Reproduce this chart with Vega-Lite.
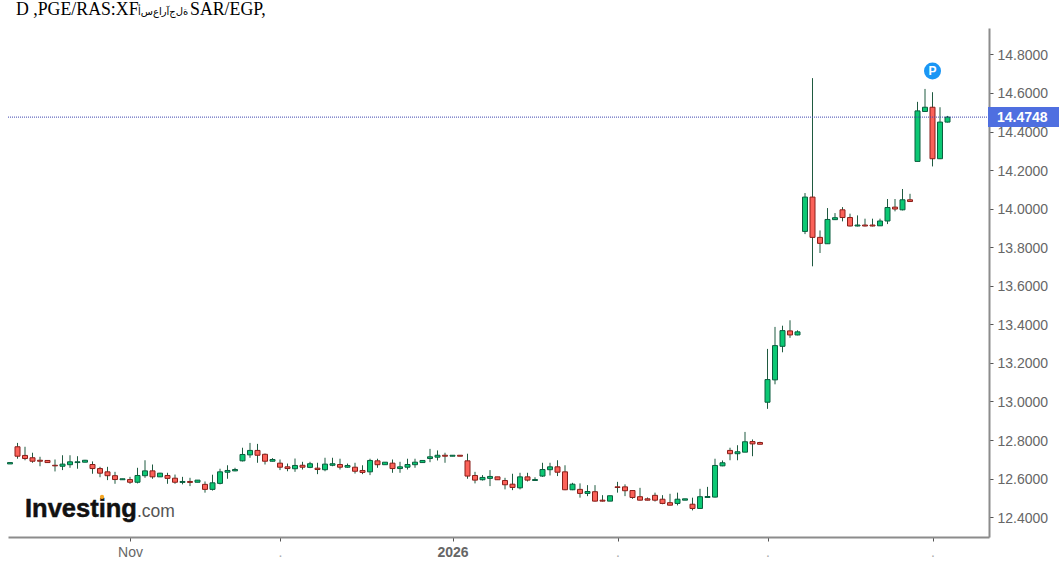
{
  "$schema": "https://vega.github.io/schema/vega-lite/v6.json",
  "width": 981,
  "height": 509,
  "autosize": "none",
  "padding": {"left": 8, "top": 28, "right": 70, "bottom": 29},
  "background": "white",
  "datasets": {
    "candles": [
      {"n":0,"date":"2025-10-10","open":12.676,"high":12.683,"low":12.676,"close":12.683},
      {"n":1,"date":"2025-10-13","open":12.765,"high":12.785,"low":12.703,"close":12.716},
      {"n":2,"date":"2025-10-14","open":12.72,"high":12.765,"low":12.695,"close":12.704},
      {"n":3,"date":"2025-10-15","open":12.708,"high":12.734,"low":12.682,"close":12.69},
      {"n":4,"date":"2025-10-16","open":12.695,"high":12.713,"low":12.664,"close":12.69},
      {"n":5,"date":"2025-10-17","open":12.694,"high":12.696,"low":12.681,"close":12.683},
      {"n":6,"date":"2025-10-20","open":12.669,"high":12.699,"low":12.637,"close":12.666},
      {"n":7,"date":"2025-10-21","open":12.664,"high":12.721,"low":12.644,"close":12.675},
      {"n":8,"date":"2025-10-22","open":12.672,"high":12.721,"low":12.656,"close":12.687},
      {"n":9,"date":"2025-10-23","open":12.683,"high":12.716,"low":12.651,"close":12.687},
      {"n":10,"date":"2025-10-24","open":12.685,"high":12.697,"low":12.684,"close":12.695},
      {"n":11,"date":"2025-10-27","open":12.673,"high":12.689,"low":12.625,"close":12.652},
      {"n":12,"date":"2025-10-28","open":12.652,"high":12.661,"low":12.607,"close":12.628},
      {"n":13,"date":"2025-10-29","open":12.635,"high":12.661,"low":12.592,"close":12.615},
      {"n":14,"date":"2025-10-30","open":12.615,"high":12.635,"low":12.573,"close":12.595},
      {"n":15,"date":"2025-10-31","open":12.594,"high":12.599,"low":12.594,"close":12.599},
      {"n":16,"date":"2025-11-03","open":12.595,"high":12.609,"low":12.573,"close":12.581},
      {"n":17,"date":"2025-11-04","open":12.581,"high":12.656,"low":12.575,"close":12.616},
      {"n":18,"date":"2025-11-05","open":12.615,"high":12.695,"low":12.604,"close":12.64},
      {"n":19,"date":"2025-11-06","open":12.64,"high":12.673,"low":12.599,"close":12.609},
      {"n":20,"date":"2025-11-07","open":12.609,"high":12.63,"low":12.608,"close":12.628},
      {"n":21,"date":"2025-11-10","open":12.616,"high":12.63,"low":12.573,"close":12.601},
      {"n":22,"date":"2025-11-11","open":12.602,"high":12.621,"low":12.573,"close":12.581},
      {"n":23,"date":"2025-11-12","open":12.58,"high":12.609,"low":12.57,"close":12.585},
      {"n":24,"date":"2025-11-13","open":12.585,"high":12.604,"low":12.561,"close":12.58},
      {"n":25,"date":"2025-11-14","open":12.581,"high":12.592,"low":12.581,"close":12.592},
      {"n":26,"date":"2025-11-17","open":12.57,"high":12.585,"low":12.527,"close":12.544},
      {"n":27,"date":"2025-11-18","open":12.544,"high":12.62,"low":12.538,"close":12.578},
      {"n":28,"date":"2025-11-19","open":12.575,"high":12.651,"low":12.57,"close":12.635},
      {"n":29,"date":"2025-11-20","open":12.633,"high":12.669,"low":12.599,"close":12.642},
      {"n":30,"date":"2025-11-21","open":12.64,"high":12.656,"low":12.638,"close":12.647},
      {"n":31,"date":"2025-11-24","open":12.692,"high":12.76,"low":12.689,"close":12.725},
      {"n":32,"date":"2025-11-25","open":12.723,"high":12.785,"low":12.708,"close":12.746},
      {"n":33,"date":"2025-11-26","open":12.746,"high":12.78,"low":12.682,"close":12.721},
      {"n":34,"date":"2025-11-27","open":12.726,"high":12.73,"low":12.673,"close":12.69},
      {"n":35,"date":"2025-11-28","open":12.69,"high":12.706,"low":12.689,"close":12.699},
      {"n":36,"date":"2025-12-01","open":12.68,"high":12.699,"low":12.644,"close":12.659},
      {"n":37,"date":"2025-12-02","open":12.661,"high":12.678,"low":12.638,"close":12.652},
      {"n":38,"date":"2025-12-03","open":12.651,"high":12.704,"low":12.635,"close":12.668},
      {"n":39,"date":"2025-12-04","open":12.669,"high":12.687,"low":12.647,"close":12.659},
      {"n":40,"date":"2025-12-05","open":12.658,"high":12.687,"low":12.654,"close":12.677},
      {"n":41,"date":"2025-12-08","open":12.654,"high":12.682,"low":12.623,"close":12.647},
      {"n":42,"date":"2025-12-09","open":12.646,"high":12.708,"low":12.638,"close":12.675},
      {"n":43,"date":"2025-12-10","open":12.669,"high":12.708,"low":12.664,"close":12.677},
      {"n":44,"date":"2025-12-11","open":12.673,"high":12.703,"low":12.647,"close":12.659},
      {"n":45,"date":"2025-12-12","open":12.659,"high":12.678,"low":12.656,"close":12.668},
      {"n":46,"date":"2025-12-15","open":12.659,"high":12.682,"low":12.626,"close":12.638},
      {"n":47,"date":"2025-12-16","open":12.642,"high":12.669,"low":12.623,"close":12.632},
      {"n":48,"date":"2025-12-17","open":12.635,"high":12.703,"low":12.618,"close":12.694},
      {"n":49,"date":"2025-12-18","open":12.692,"high":12.703,"low":12.656,"close":12.672},
      {"n":50,"date":"2025-12-19","open":12.672,"high":12.685,"low":12.672,"close":12.685},
      {"n":51,"date":"2025-12-22","open":12.68,"high":12.699,"low":12.63,"close":12.652},
      {"n":52,"date":"2025-12-23","open":12.652,"high":12.687,"low":12.63,"close":12.661},
      {"n":53,"date":"2025-12-24","open":12.659,"high":12.703,"low":12.647,"close":12.673},
      {"n":54,"date":"2025-12-25","open":12.672,"high":12.703,"low":12.656,"close":12.685},
      {"n":55,"date":"2025-12-26","open":12.683,"high":12.694,"low":12.683,"close":12.694},
      {"n":56,"date":"2025-12-29","open":12.704,"high":12.754,"low":12.685,"close":12.713},
      {"n":57,"date":"2025-12-30","open":12.711,"high":12.746,"low":12.694,"close":12.721},
      {"n":58,"date":"2025-12-31","open":12.721,"high":12.734,"low":12.682,"close":12.716},
      {"n":59,"date":"2026-01-01","open":12.716,"high":12.721,"low":12.716,"close":12.721},
      {"n":60,"date":"2026-01-02","open":12.721,"high":12.721,"low":12.716,"close":12.716},
      {"n":61,"date":"2026-01-05","open":12.692,"high":12.729,"low":12.599,"close":12.613},
      {"n":62,"date":"2026-01-06","open":12.616,"high":12.635,"low":12.575,"close":12.592},
      {"n":63,"date":"2026-01-07","open":12.594,"high":12.618,"low":12.59,"close":12.606},
      {"n":64,"date":"2026-01-08","open":12.601,"high":12.644,"low":12.561,"close":12.611},
      {"n":65,"date":"2026-01-09","open":12.609,"high":12.609,"low":12.594,"close":12.594},
      {"n":66,"date":"2026-01-12","open":12.59,"high":12.604,"low":12.544,"close":12.568},
      {"n":67,"date":"2026-01-13","open":12.571,"high":12.625,"low":12.54,"close":12.554},
      {"n":68,"date":"2026-01-14","open":12.552,"high":12.63,"low":12.544,"close":12.609},
      {"n":69,"date":"2026-01-15","open":12.609,"high":12.63,"low":12.585,"close":12.592},
      {"n":70,"date":"2026-01-16","open":12.59,"high":12.607,"low":12.59,"close":12.595},
      {"n":71,"date":"2026-01-19","open":12.613,"high":12.682,"low":12.609,"close":12.647},
      {"n":72,"date":"2026-01-20","open":12.646,"high":12.682,"low":12.616,"close":12.661},
      {"n":73,"date":"2026-01-21","open":12.661,"high":12.695,"low":12.613,"close":12.633},
      {"n":74,"date":"2026-01-22","open":12.635,"high":12.669,"low":12.54,"close":12.542},
      {"n":75,"date":"2026-01-23","open":12.542,"high":12.578,"low":12.54,"close":12.571},
      {"n":76,"date":"2026-01-26","open":12.544,"high":12.575,"low":12.501,"close":12.523},
      {"n":77,"date":"2026-01-27","open":12.523,"high":12.566,"low":12.509,"close":12.533},
      {"n":78,"date":"2026-01-28","open":12.532,"high":12.566,"low":12.481,"close":12.483},
      {"n":79,"date":"2026-01-29","open":12.488,"high":12.514,"low":12.481,"close":12.483},
      {"n":80,"date":"2026-01-30","open":12.483,"high":12.511,"low":12.483,"close":12.511},
      {"n":81,"date":"2026-02-02","open":12.557,"high":12.583,"low":12.527,"close":12.554},
      {"n":82,"date":"2026-02-03","open":12.557,"high":12.57,"low":12.509,"close":12.537},
      {"n":83,"date":"2026-02-04","open":12.538,"high":12.54,"low":12.495,"close":12.502},
      {"n":84,"date":"2026-02-05","open":12.506,"high":12.552,"low":12.487,"close":12.488},
      {"n":85,"date":"2026-02-06","open":12.495,"high":12.502,"low":12.487,"close":12.488},
      {"n":86,"date":"2026-02-09","open":12.513,"high":12.527,"low":12.481,"close":12.488},
      {"n":87,"date":"2026-02-10","open":12.493,"high":12.514,"low":12.467,"close":12.471},
      {"n":88,"date":"2026-02-11","open":12.475,"high":12.521,"low":12.461,"close":12.462},
      {"n":89,"date":"2026-02-12","open":12.471,"high":12.527,"low":12.461,"close":12.493},
      {"n":90,"date":"2026-02-13","open":12.488,"high":12.495,"low":12.488,"close":12.495},
      {"n":91,"date":"2026-02-16","open":12.467,"high":12.501,"low":12.435,"close":12.445},
      {"n":92,"date":"2026-02-17","open":12.445,"high":12.547,"low":12.444,"close":12.506},
      {"n":93,"date":"2026-02-18","open":12.502,"high":12.557,"low":12.501,"close":12.507},
      {"n":94,"date":"2026-02-19","open":12.504,"high":12.703,"low":12.502,"close":12.668},
      {"n":95,"date":"2026-02-20","open":12.666,"high":12.694,"low":12.664,"close":12.682},
      {"n":96,"date":"2026-02-23","open":12.746,"high":12.76,"low":12.695,"close":12.729},
      {"n":97,"date":"2026-02-24","open":12.729,"high":12.773,"low":12.695,"close":12.739},
      {"n":98,"date":"2026-02-25","open":12.737,"high":12.842,"low":12.737,"close":12.791},
      {"n":99,"date":"2026-02-26","open":12.792,"high":12.803,"low":12.716,"close":12.78},
      {"n":100,"date":"2026-02-27","open":12.787,"high":12.791,"low":12.778,"close":12.778},
      {"n":101,"date":"2026-03-02","open":12.996,"high":13.2725,"low":12.9617,"close":13.1135},
      {"n":102,"date":"2026-03-03","open":13.112,"high":13.3866,"low":13.089,"close":13.2896},
      {"n":103,"date":"2026-03-04","open":13.286,"high":13.393,"low":13.255,"close":13.3674},
      {"n":104,"date":"2026-03-05","open":13.366,"high":13.421,"low":13.33,"close":13.345},
      {"n":105,"date":"2026-03-06","open":13.345,"high":13.369,"low":13.343,"close":13.361},
      {"n":106,"date":"2026-03-09","open":13.882,"high":14.081,"low":13.868,"close":14.06},
      {"n":107,"date":"2026-03-10","open":14.06,"high":14.677,"low":13.701,"close":13.851},
      {"n":108,"date":"2026-03-11","open":13.851,"high":13.887,"low":13.77,"close":13.82},
      {"n":109,"date":"2026-03-12","open":13.818,"high":14.003,"low":13.817,"close":13.944},
      {"n":110,"date":"2026-03-13","open":13.943,"high":13.977,"low":13.941,"close":13.953},
      {"n":111,"date":"2026-03-16","open":13.994,"high":14.008,"low":13.934,"close":13.954},
      {"n":112,"date":"2026-03-17","open":13.954,"high":13.974,"low":13.908,"close":13.91},
      {"n":113,"date":"2026-03-18","open":13.91,"high":13.965,"low":13.908,"close":13.915},
      {"n":114,"date":"2026-03-19","open":13.915,"high":13.948,"low":13.908,"close":13.91},
      {"n":115,"date":"2026-03-20","open":13.915,"high":13.948,"low":13.908,"close":13.91},
      {"n":116,"date":"2026-03-23","open":13.911,"high":13.948,"low":13.91,"close":13.936},
      {"n":117,"date":"2026-03-24","open":13.936,"high":14.05,"low":13.92,"close":14.006},
      {"n":118,"date":"2026-03-25","open":14.008,"high":14.05,"low":13.986,"close":13.998},
      {"n":119,"date":"2026-03-26","open":13.994,"high":14.102,"low":13.991,"close":14.046},
      {"n":120,"date":"2026-03-27","open":14.046,"high":14.077,"low":14.037,"close":14.037},
      {"n":121,"date":"2026-03-30","open":14.245,"high":14.554,"low":14.245,"close":14.507},
      {"n":122,"date":"2026-03-31","open":14.504,"high":14.621,"low":14.504,"close":14.526},
      {"n":123,"date":"2026-04-01","open":14.526,"high":14.604,"low":14.219,"close":14.259},
      {"n":124,"date":"2026-04-02","open":14.259,"high":14.526,"low":14.257,"close":14.449},
      {"n":125,"date":"2026-04-03","open":14.449,"high":14.481,"low":14.447,"close":14.4748}
    ]
  },
  "layer": [
    {
      "data": {"name": "candles"},
      "mark": {"type": "rule", "strokeWidth": 1, "color": "#1f5a40"},
      "encoding": {
        "x": {
          "field": "n",
          "type": "quantitative",
          "scale": {"domain": [-0.267, 130.533], "nice": false, "zero": false, "padding": 0},
          "axis": {
            "values": [16, 36, 59, 81, 101, 123],
            "labelExpr": "datum.value == 16 ? 'Nov' : datum.value == 59 ? '2026' : '.'",
            "labelFontWeight": {"condition": {"test": "datum.value == 59", "value": "bold"}, "value": "normal"},
            "labelColor": {"condition": {"test": "datum.value == 16 || datum.value == 59", "value": "#666666"}, "value": "#aaaaaa"},
            "labelFont": "Liberation Sans",
            "labelFontSize": 14,
            "labelPadding": 4,
            "domainColor": "#8c8c8c",
            "domainWidth": 2,
            "tickColor": "#555555",
            "tickSize": 4,
            "grid": false
          }
        },
        "y": {
          "field": "low",
          "type": "quantitative",
          "scale": {"domain": [12.297, 14.937], "nice": false, "zero": false, "padding": 0},
          "axis": {
            "orient": "right",
            "values": [12.4, 12.6, 12.8, 13, 13.2, 13.4, 13.6, 13.8, 14, 14.2, 14.4, 14.6, 14.8],
            "format": ".4f",
            "labelFont": "Liberation Sans",
            "labelFontSize": 14,
            "labelColor": "#666666",
            "labelPadding": 4,
            "labelOffset": 1,
            "domainColor": "#8c8c8c",
            "domainWidth": 2,
            "tickColor": "#555555",
            "tickSize": 4,
            "grid": false
          }
        },
        "y2": {"field": "high"}
      }
    },
    {
      "data": {"name": "candles"},
      "mark": {"type": "bar", "size": 5, "strokeWidth": 1},
      "encoding": {
        "x": {"field": "n", "type": "quantitative"},
        "y": {"field": "open", "type": "quantitative"},
        "y2": {"field": "close"},
        "fill": {"condition": {"test": "datum.close >= datum.open", "value": "#0cc874"}, "value": "#fb6259"},
        "stroke": {"condition": {"test": "datum.close >= datum.open", "value": "#0a5f3f"}, "value": "#8a1f1a"}
      }
    },
    {
      "data": {"values": [{"price": 14.4748}]},
      "mark": {"type": "rule", "strokeWidth": 1, "strokeDash": [1, 1], "color": "#3f47b0"},
      "encoding": {"y": {"field": "price", "type": "quantitative"}}
    },
    {
      "data": {"values": [{"price": 14.4748}]},
      "mark": {"type": "bar", "orient": "horizontal", "size": 20, "color": "#4f6fe0", "clip": false},
      "encoding": {
        "x": {"datum": 130.4, "type": "quantitative"},
        "x2": {"datum": 139.9},
        "y": {"field": "price", "type": "quantitative"}
      }
    },
    {
      "data": {"values": [{"price": 14.4748}]},
      "mark": {"type": "text", "font": "Liberation Sans", "fontSize": 14, "fontWeight": "bold", "color": "#ffffff", "align": "left", "baseline": "middle", "dy": 1, "clip": false},
      "encoding": {
        "x": {"datum": 131.6, "type": "quantitative"},
        "y": {"field": "price", "type": "quantitative"},
        "text": {"field": "price", "type": "quantitative", "format": ".4f"}
      }
    },
    {
      "data": {"values": [{"label": "P"}]},
      "mark": {"type": "point", "filled": true, "opacity": 1, "size": 290, "color": "#1a96f5"},
      "encoding": {
        "x": {"datum": 123, "type": "quantitative"},
        "y": {"datum": 14.7145, "type": "quantitative"}
      }
    },
    {
      "data": {"values": [{"label": "P"}]},
      "mark": {"type": "text", "font": "Liberation Sans", "fontSize": 12, "fontWeight": "bold", "color": "#ffffff", "baseline": "middle"},
      "encoding": {
        "x": {"datum": 123, "type": "quantitative"},
        "y": {"datum": 14.7145, "type": "quantitative"},
        "text": {"field": "label"}
      }
    },
    {
      "data": {"values": [{"label": "Investing"}]},
      "mark": {"type": "text", "font": "Liberation Sans", "fontSize": 25.5, "fontWeight": "bold", "color": "#111111", "stroke": "#111111", "strokeWidth": 0.5, "align": "left", "baseline": "alphabetic"},
      "encoding": {
        "x": {"datum": 2, "type": "quantitative"},
        "y": {"datum": 12.4, "type": "quantitative"},
        "text": {"field": "label"}
      }
    },
    {
      "data": {"values": [{"label": ".com"}]},
      "mark": {"type": "text", "font": "Liberation Sans", "fontSize": 17.5, "color": "#555555", "align": "left", "baseline": "alphabetic"},
      "encoding": {
        "x": {"datum": 16.93, "type": "quantitative"},
        "y": {"datum": 12.4, "type": "quantitative"},
        "text": {"field": "label"}
      }
    },
    {
      "data": {"values": [{"label": "dot"}]},
      "mark": {"type": "point", "filled": true, "opacity": 1, "size": 18, "color": "#f5a623"},
      "encoding": {
        "x": {"datum": 12.27, "type": "quantitative"},
        "y": {"datum": 12.505, "type": "quantitative"}
      }
    },
    {
      "data": {"values": [{"label": "D ,PGE/RAS:XF"}]},
      "mark": {"type": "text", "font": "Liberation Serif", "fontSize": 17.8, "color": "#000000", "align": "left", "baseline": "alphabetic", "clip": false},
      "encoding": {
        "x": {"datum": 0.8, "type": "quantitative"},
        "y": {"datum": 15.0047, "type": "quantitative"},
        "text": {"field": "label"}
      }
    },
    {
      "data": {"values": [{"label": "\u202d\ufe83\ufeb1\ufec9\ufe8d\ufead\ufe81\ufe9d\ufedd\ufe93\u202c"}]},
      "mark": {"type": "text", "font": "DejaVu Sans", "fontSize": 10, "color": "#000000", "align": "left", "baseline": "alphabetic", "clip": false},
      "encoding": {
        "x": {"datum": 17.07, "type": "quantitative"},
        "y": {"datum": 15.0047, "type": "quantitative"},
        "text": {"field": "label"}
      }
    },
    {
      "data": {"values": [{"label": "SAR/EGP,"}]},
      "mark": {"type": "text", "font": "Liberation Serif", "fontSize": 17.8, "color": "#000000", "align": "left", "baseline": "alphabetic", "clip": false},
      "encoding": {
        "x": {"datum": 24, "type": "quantitative"},
        "y": {"datum": 15.0047, "type": "quantitative"},
        "text": {"field": "label"}
      }
    }
  ],
  "config": {
    "view": {"stroke": null},
    "axis": {"title": null}
  }
}
